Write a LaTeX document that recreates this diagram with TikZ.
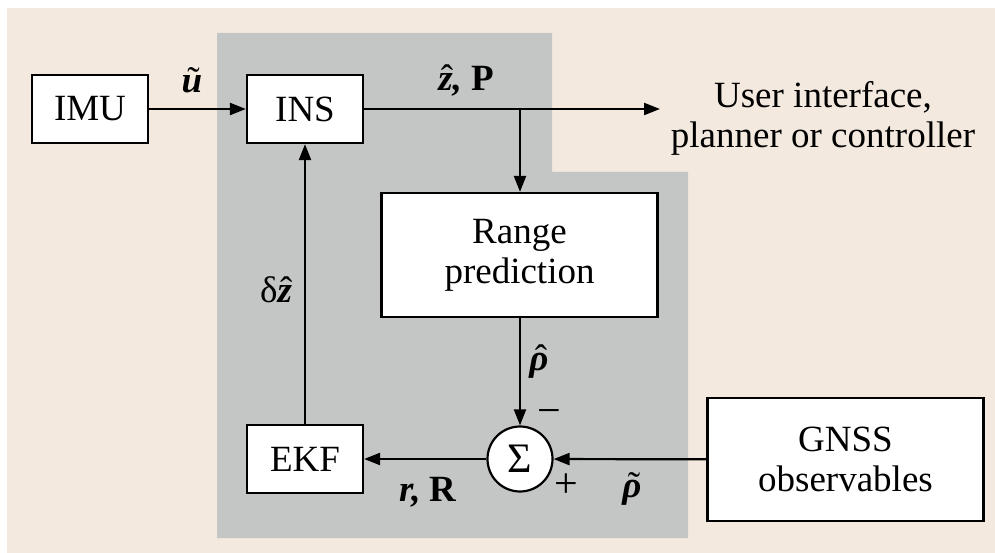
\documentclass[tikz,border=0pt]{standalone}
\usepackage{fontspec}
\setmainfont{Liberation Serif}
\usetikzlibrary{arrows.meta}
\definecolor{paper}{RGB}{243,233,223}
\definecolor{grayzone}{RGB}{196,198,197}
\newcommand{\bvec}[1]{{\bfseries\itshape #1}}
% accent #1 centred over #2, pushed right by #3 for the italic slant
\newcommand{\accover}[3]{\leavevmode{\ooalign{#2\cr\hidewidth\kern#3{\mdseries\upshape #1}\hidewidth\cr}}}
\begin{document}
\begin{tikzpicture}[x=1pt,y=-1pt,
  every node/.style={font=\fontsize{37}{40}\selectfont},
  block/.style={draw,line width=2.2pt,fill=white,inner sep=0pt},
  lbl/.style={inner sep=0pt},
  sign/.style={inner sep=0pt,font=\fontsize{42}{44}\selectfont},
  conn/.style={line width=2.2pt,-{Triangle[length=16pt,width=12pt]}}]
\useasboundingbox (0,0) rectangle (995,553);
% page and shaded navigation-filter region
\fill[paper] (7,8) rectangle (995,553);
\fill[grayzone] (217,33) -- (552,33) -- (552,172) -- (688,172) -- (688,538) -- (217,538) -- cycle;

% blocks
\node[block,minimum width=116pt,minimum height=68pt] (imu) at (90,109) {IMU};
\node[block,minimum width=116pt,minimum height=68pt] (ins) at (305,109) {INS};
\node[block,minimum width=276pt,minimum height=124pt,align=center] (rp) at (519.5,255) {Range\\prediction};
\node[block,minimum width=116pt,minimum height=68pt] (ekf) at (305,459) {EKF};
\node[block,minimum width=276pt,minimum height=123pt,align=center] (gnss) at (845.5,459.5) {GNSS\\observables};
\node[block,circle,minimum size=65pt,font=\fontsize{42}{44}\selectfont] (sum) at (520,459) {Σ};
\node[lbl,align=center] (ui) at (823,118) {User interface,\\planner or controller};

% connectors
\coordinate (out) at (660,109);
\coordinate (split) at (520,109);
\draw[conn] (imu) -- (ins);
\draw[conn] (ins) -- (out);
\draw[conn] (split) -- (rp.north -| split);
\draw[conn] (rp.south -| sum) -- (sum);
\draw[conn] (gnss) -- (sum);
\draw[conn] (sum) -- (ekf);
\draw[conn] (ekf) -- (ins);

% signal labels
\node[lbl] (lu) at (192,84) {\accover{˜}{\bvec{u}}{3pt}};
\node[lbl] (lz) at (466,81) {\accover{ˆ}{\bvec{z}}{3pt}\bvec{,} \textbf{P}};
\node[lbl] (ldz) at (276,290) {δ\accover{ˆ}{\bvec{z}}{3pt}};
\node[lbl] (lrho) at (539,362) {\accover{ˆ}{\bvec{ρ}}{4pt}};
\node[sign] (lminus) at (549,417) {−};
\node[sign] (lplus) at (566,486) {+};
\node[lbl] (lrR) at (428,492) {\bvec{r,} \textbf{R}};
\node[lbl] (ltrho) at (632,489) {\accover{˜}{\bvec{ρ}}{4pt}};
\end{tikzpicture}
\end{document}
